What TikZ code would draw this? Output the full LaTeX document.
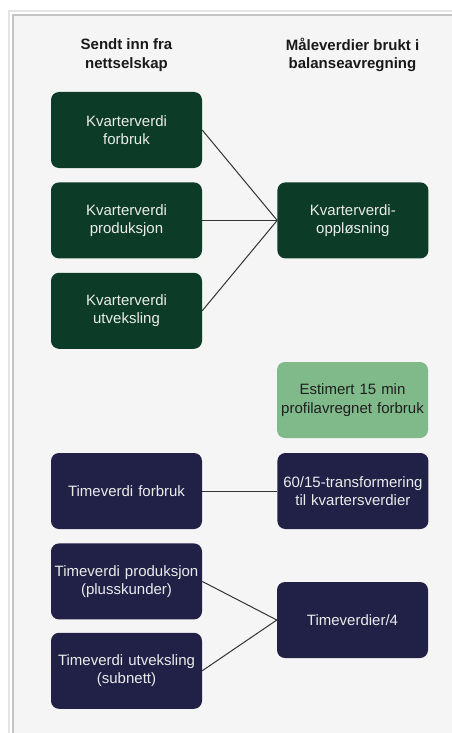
\documentclass[tikz,border=0pt]{standalone}
\usepackage{fontspec}
\setmainfont{Liberation Sans}
\usetikzlibrary{positioning}
\definecolor{kvgreen}{RGB}{12,60,40}
\definecolor{estgreen}{RGB}{128,186,138}
\definecolor{timenavy}{RGB}{33,33,72}
\definecolor{panelgray}{RGB}{245,245,245}
\definecolor{edgegray}{RGB}{196,196,196}
\tikzset{
  box/.style={rounded corners=8pt, align=center, font=\fontsize{15}{18.5}\selectfont, text width=148pt, minimum height=76pt, inner xsep=1.5pt, inner ysep=0pt},
  kvbox/.style={box, fill=kvgreen, text=white!92!black},
  estbox/.style={box, fill=estgreen, text=black!88},
  timebox/.style={box, fill=timenavy, text=white!92!black},
  head/.style={font=\bfseries\fontsize{15}{18.5}\selectfont, align=center, text=black!90},
  link/.style={line width=1pt, black!80}}

\begin{document}
\begin{tikzpicture}[x=1pt, y=-1pt, node distance=14pt and 75pt]
  \useasboundingbox (0,0) rectangle (452,733);
  % panel
  \fill[panelgray] (12,14) rectangle (452,733);
  \draw[edgegray!45, line width=2pt] (9,733) |- (452,11);
  \draw[edgegray, line width=2pt] (13,733) |- (452,15);
  % headings
  \node[head] (hleft) at (126.5,55) {Sendt inn fra\\nettselskap};
  \node[head] (hright) at (352.5,55) {Måleverdier brukt i\\balanseavregning};
  % kvarterverdier
  \node[kvbox] (kvforbruk) at (126.5,130) {Kvarterverdi\\forbruk};
  \node[kvbox, below=of kvforbruk] (kvprod) {Kvarterverdi\\produksjon};
  \node[kvbox, below=of kvprod] (kvutv) {Kvarterverdi\\utveksling};
  \node[kvbox, right=of kvprod] (kvoppl) {Kvarterverdi-\\oppløsning};
  \node[estbox] (estimert) at (352.5,400) {Estimert 15 min\\profilavregnet forbruk};
  % timeverdier
  \node[timebox] (tforbruk) at (126.5,491) {Timeverdi forbruk};
  \node[timebox, right=of tforbruk] (ttransf) {60/15-transformering\\til kvartersverdier};
  \node[timebox, below=of tforbruk] (tprod) {Timeverdi produksjon\\(plusskunder)};
  \node[timebox, below=13pt of tprod] (tutv) {Timeverdi utveksling\\(subnett)};
  \node[timebox] (tdel) at (352.5,620) {Timeverdier/4};
  % connectors
  \draw[link] (kvforbruk.east) -- (kvoppl.west);
  \draw[link] (kvprod.east) -- (kvoppl.west);
  \draw[link] (kvutv.east) -- (kvoppl.west);
  \draw[link] (tforbruk) -- (ttransf);
  \draw[link] (tprod.east) -- (tdel.west);
  \draw[link] (tutv.east) -- (tdel.west);
\end{tikzpicture}
\end{document}
